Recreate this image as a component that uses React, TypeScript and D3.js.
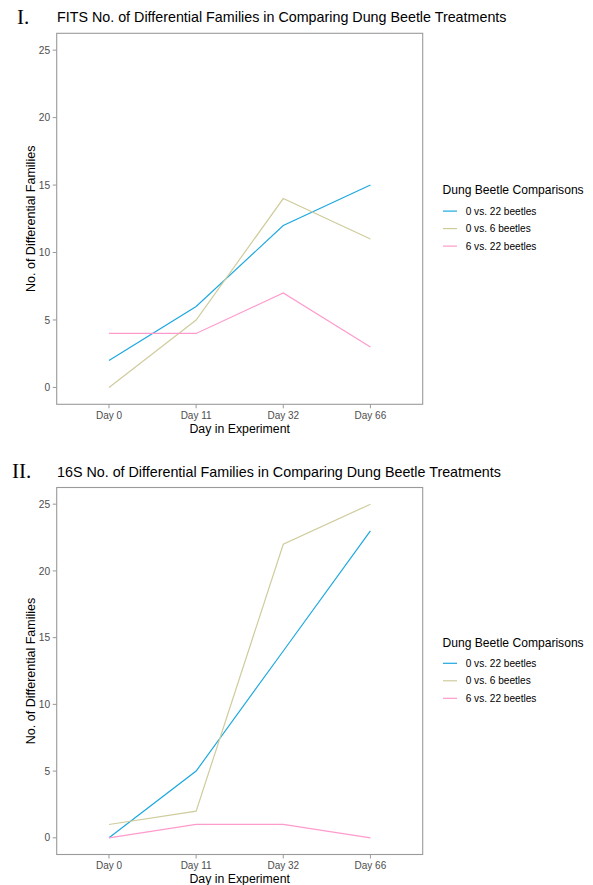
import React from "react";
import * as d3 from "d3";

const days = ["Day 0", "Day 11", "Day 32", "Day 66"];
const seriesNames = ["0 vs. 22 beetles", "0 vs. 6 beetles", "6 vs. 22 beetles"];
const seriesColors = ["#1DA8E0", "#CFCC9C", "#FF9ACD"];
const yTicks = [0, 5, 10, 15, 20, 25];

const fitsBlue = [2, 6, 12, 15];
const fitsOlive = [0, 5, 14, 11];
const fitsPink = [4, 4, 7, 3];

const s16Blue = [0, 5, 14, 23];
const s16Olive = [1, 2, 22, 25];
const s16Pink = [0, 1, 1, 0];

const FONT = "'Liberation Sans', Arial, Helvetica, sans-serif";

type PanelProps = {
  roman: string;
  romanX: number;
  title: string;
  top: number;
  bottom: number;
  series: number[][];
};

function Panel({ roman, romanX, title, top, bottom, series }: PanelProps) {
  const left = 56.7;
  const right = 422.7;
  const x = d3.scalePoint<string>().domain(days).range([left, right]).padding(0.6);
  const y = d3.scaleLinear().domain([-1.25, 26.25]).range([bottom, top]);
  const line = d3
    .line<number>()
    .x((_, i) => x(days[i]) as number)
    .y((d) => y(d));
  const midY = (top + bottom) / 2;
  const legTop = midY - 24.5;
  return (
    <g>
      <text x={romanX} y={top - 9.5} fontFamily="'Liberation Serif', 'Times New Roman', serif" fontSize={21} fill="#000">
        {roman}
      </text>
      <text x={57} y={top - 11} fontFamily={FONT} fontSize={14.3} fill="#000">
        {title}
      </text>
      <rect x={left} y={top} width={right - left} height={bottom - top} fill="#fff" stroke="#9a9a9a" strokeWidth={1.1} />
      {yTicks.map((t) => (
        <g key={t}>
          <line x1={left - 4} x2={left} y1={y(t)} y2={y(t)} stroke="#9a9a9a" strokeWidth={1} />
          <text x={left - 6.5} y={y(t) + 3.6} textAnchor="end" fontFamily={FONT} fontSize={10.2} fill="#4d4d4d">
            {t}
          </text>
        </g>
      ))}
      {days.map((d) => (
        <g key={d}>
          <line x1={x(d)} x2={x(d)} y1={bottom} y2={bottom + 4} stroke="#9a9a9a" strokeWidth={1} />
          <text x={x(d)} y={bottom + 14.2} textAnchor="middle" fontFamily={FONT} fontSize={10} fill="#4d4d4d">
            {d}
          </text>
        </g>
      ))}
      <text x={(left + right) / 2} y={bottom + 28.3} textAnchor="middle" fontFamily={FONT} fontSize={12.3} fill="#000">
        Day in Experiment
      </text>
      <text
        transform={`translate(34.5,${midY}) rotate(-90)`}
        textAnchor="middle"
        fontFamily={FONT}
        fontSize={12.5}
        fill="#000"
      >
        No. of Differential Families
      </text>
      {series.map((s, i) => (
        <path key={i} d={line(s) || ""} fill="none" stroke={seriesColors[i]} strokeWidth={1.2} />
      ))}
      <text x={442.5} y={legTop} fontFamily={FONT} fontSize={12.1} fill="#000">
        Dung Beetle Comparisons
      </text>
      {seriesNames.map((n, i) => (
        <g key={n}>
          <line
            x1={443}
            x2={457}
            y1={legTop + 16.8 + i * 17.5}
            y2={legTop + 16.8 + i * 17.5}
            stroke={seriesColors[i]}
            strokeWidth={1.2}
          />
          <text x={465.7} y={legTop + 20.4 + i * 17.5} fontFamily={FONT} fontSize={10.1} fill="#000">
            {n}
          </text>
        </g>
      ))}
    </g>
  );
}

export default function App() {
  return (
    <svg
      width={593}
      height={885}
      style={{ position: "absolute", left: 0, top: 0, display: "block", background: "#fff" }}
    >
      <rect x={0} y={0} width={593} height={885} fill="#fff" />
      <Panel
        roman="I."
        romanX={17}
        title="FITS No. of Differential Families in Comparing Dung Beetle Treatments"
        top={33.3}
        bottom={404.3}
        series={[fitsBlue, fitsOlive, fitsPink]}
      />
      <Panel
        roman="II."
        romanX={12}
        title="16S No. of Differential Families in Comparing Dung Beetle Treatments"
        top={487.5}
        bottom={854.5}
        series={[s16Blue, s16Olive, s16Pink]}
      />
    </svg>
  );
}
